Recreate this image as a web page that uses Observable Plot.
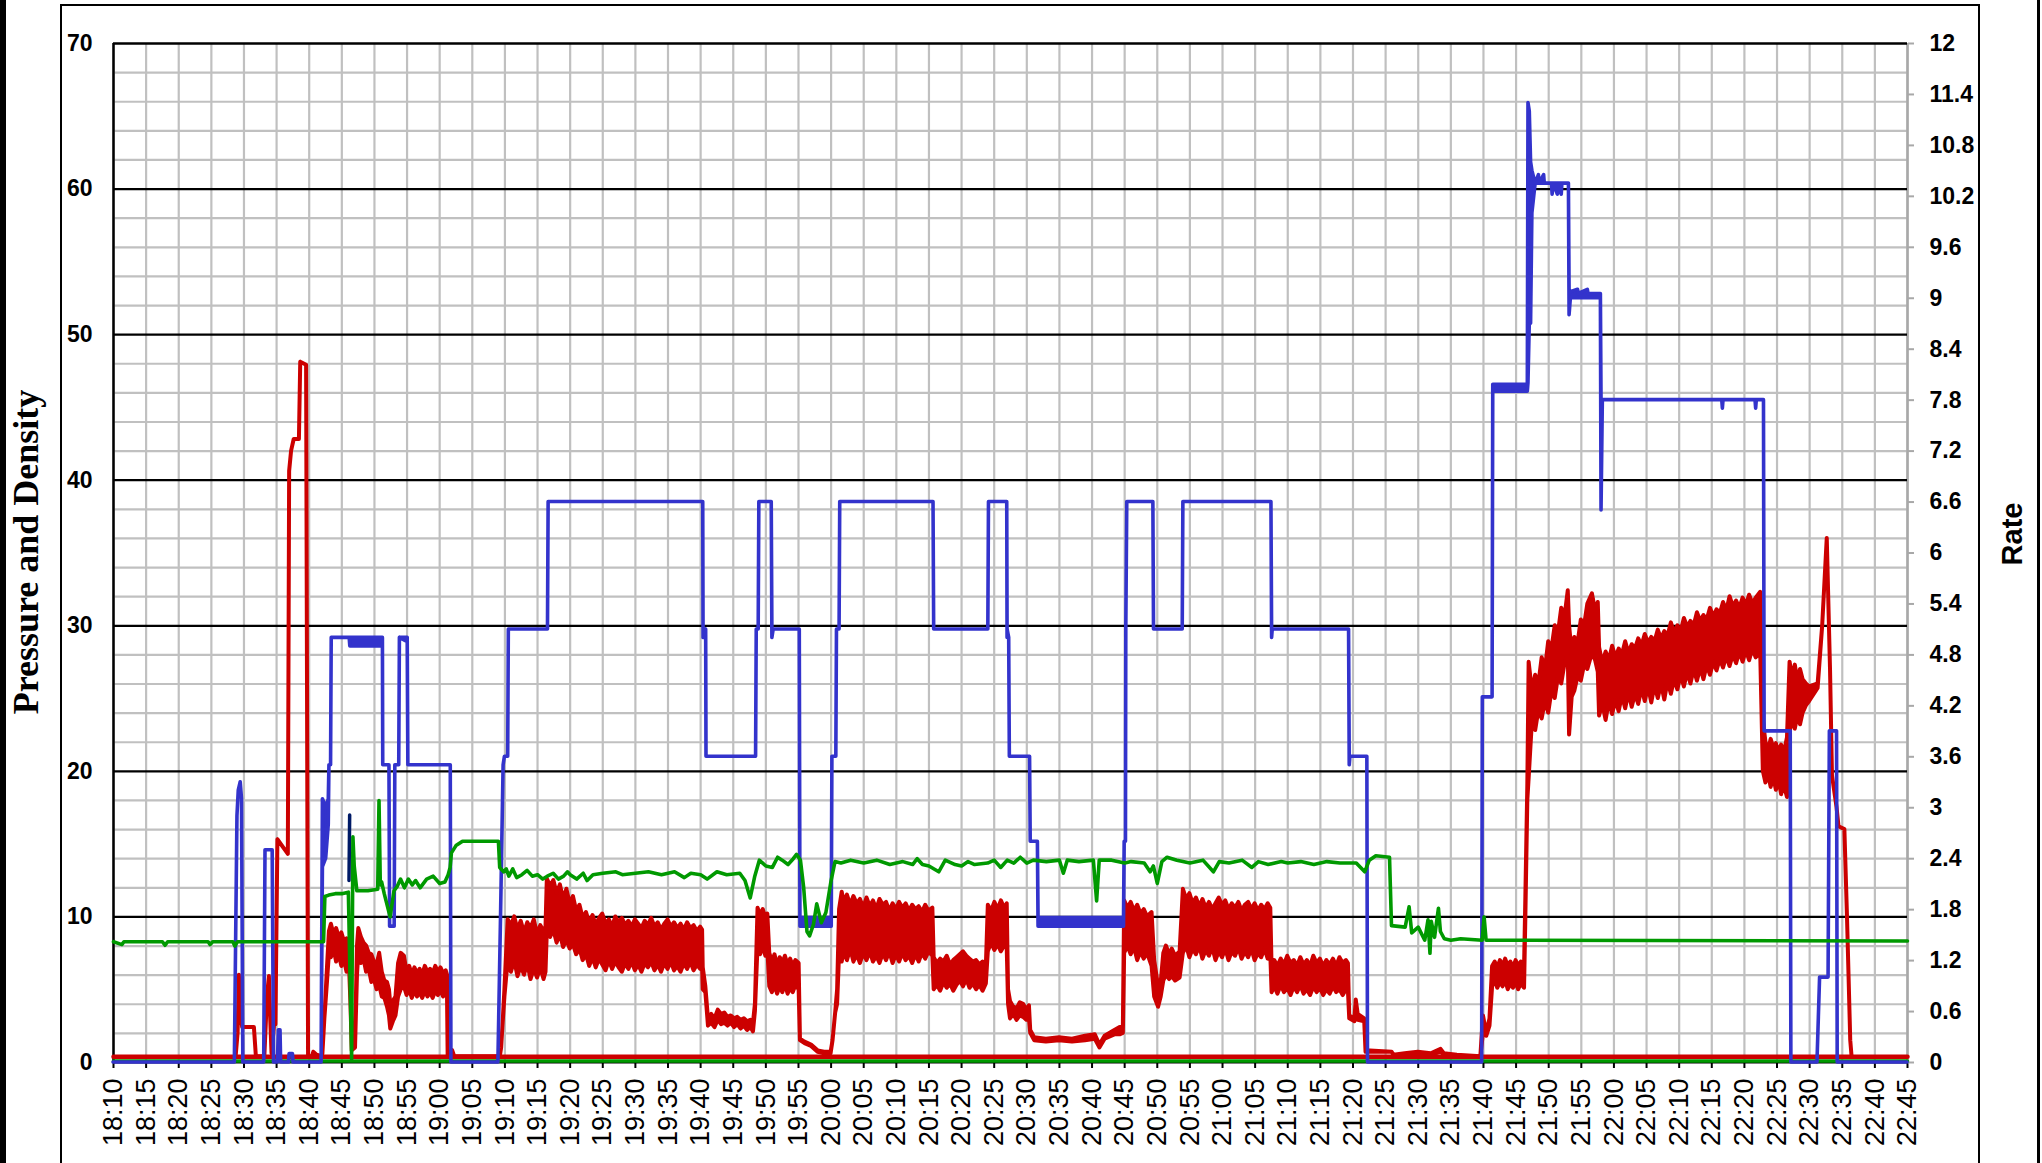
<!DOCTYPE html>
<html>
<head>
<meta charset="utf-8">
<script src="https://cdn.jsdelivr.net/npm/d3@7"></script>
<script src="https://cdn.jsdelivr.net/npm/@observablehq/plot@0.6"></script>
<style>
  html, body { margin: 0; padding: 0; background: #fff; }
  #chart { position: relative; width: 2042px; height: 1163px; }
</style>
</head>
<body>
<div id="chart"></div>
<script>
// ---------- DATA ----------
// Pressure: [time, low, high] envelope of the noisy trace (left axis)
const pressure = [
["18:28.8",0.4,0.4],["18:29.1",2,2],["18:29.3",6.0,6.0],["18:29.5",3.5,3.5],["18:29.8",2.4,2.4],["18:31.6",2.4,2.4],["18:31.9",0.4,0.4],
["18:33.2",0.4,0.4],["18:33.6",4.5,4.5],["18:33.9",5.9,5.9],["18:34.1",3,3],["18:34.3",0.6,0.6],["18:34.7",2.6,2.6],["18:34.9",2.6,2.6],
["18:35.2",15.3,15.3],["18:36.8",14.3,14.3],["18:37.0",40.6,40.6],["18:37.3",42.0,42.0],["18:37.7",42.8,42.8],["18:38.5",42.8,42.8],
["18:38.7",48.1,48.1],["18:39.6",47.9,47.9],["18:39.9",0.4,0.4],["18:40.5",0.4,0.4],["18:40.7",0.7,0.7],["18:41.2",0.5,0.5],["18:42.0",0.4,0.4],
["18:42.1",0.6,0.6],["18:42.4",3,3],["18:42.8",5.5,6.5],["18:43.1",7.5,9.0],["18:43.4",7.2,9.5],["18:43.8",7.8,8.8],["18:44.2",6.9,9.2],
["18:44.6",7.4,8.6],["18:45.0",6.6,8.9],["18:45.4",7.0,8.3],["18:45.8",6.2,8.5],["18:46.2",6.4,8.0],["18:46.4",4,6],["18:46.6",0.8,1.5],
["18:47.1",1,1.5],["18:47.4",6,8],["18:47.6",7.5,9.2],["18:48.0",6.8,8.6],["18:48.4",7.1,8.2],["18:48.8",6.2,8.0],["18:49.2",6.4,7.5],
["18:49.6",5.5,7.4],["18:50.0",5.7,6.9],["18:50.4",5.0,6.7],["18:50.8",5.3,7.5],["18:51.2",4.5,6.2],["18:51.6",4.4,5.6],["18:52.0",3.8,5.5],
["18:52.3",3.2,5.0],["18:52.5",2.3,4.0],["18:52.9",2.8,4.2],["18:53.3",3.2,4.5],["18:53.7",4.5,6.8],["18:54.1",5.0,7.5],["18:54.6",5.2,7.3],
["18:55.0",4.6,6.2],["18:55.4",5.0,6.6],["18:55.8",4.4,6.0],["18:56.2",4.9,6.5],["18:56.6",4.5,6.1],["18:57.0",4.8,6.4],["18:57.4",4.4,6.0],
["18:57.8",4.9,6.6],["18:58.2",4.5,6.2],["18:58.6",4.8,6.4],["18:59.0",4.4,6.1],["18:59.4",4.9,6.6],["18:59.8",4.6,6.2],["19:00.2",4.9,6.5],
["19:00.6",4.5,6.1],["19:01.0",4.8,6.3],["19:01.2",4.6,6.0],["19:01.3",0.4,0.6],["19:02",0.8,0.8],["19:02.3",0.4,0.4],
["19:09.3",0.4,0.4],["19:09.5",1.0,1.0],["19:09.7",2.5,2.5],["19:10.0",4.5,5.0],["19:10.3",6,7.9],
["19:10.5",6.8,9.8],["19:11",6.2,9.4],["19:11.5",7.0,10.0],["19:12",5.9,9.1],["19:12.5",6.6,9.7],["19:13",6.0,8.9],["19:13.5",6.8,9.6],
["19:14",5.7,9.2],["19:14.5",6.4,9.8],["19:15",5.8,8.8],["19:15.5",6.5,9.4],["19:16",5.7,9.0],["19:16.3",6.2,9.3],["19:16.5",9.0,12.6],
["19:17",8.6,12.1],["19:17.5",9.1,12.5],["19:18",8.2,11.6],["19:18.5",8.8,12.2],["19:19",7.9,11.2],["19:19.5",8.4,11.9],["19:20",7.8,10.9],
["19:20.5",8.1,11.4],["19:21",7.4,10.4],["19:21.5",7.8,10.8],["19:22",7.0,9.9],["19:22.5",7.4,10.3],["19:23",6.6,9.6],["19:23.5",7.2,10.1],
["19:24",6.5,9.4],["19:24.5",7.1,9.9],["19:25",6.7,10.2],["19:25.5",6.3,9.5],["19:26",7.0,9.8],["19:26.5",6.4,9.3],["19:27",6.9,10.0],
["19:27.5",6.5,9.6],["19:28",6.2,9.9],["19:28.5",6.8,9.4],["19:29",6.4,9.7],["19:29.5",6.9,9.3],["19:30",6.3,9.8],["19:30.5",6.7,9.5],
["19:31",6.2,9.2],["19:31.5",6.8,9.7],["19:32",6.5,9.4],["19:32.5",6.9,9.9],["19:33",6.3,9.3],["19:33.5",6.7,9.6],["19:34",6.2,9.1],
["19:34.5",6.8,9.5],["19:35",6.4,9.8],["19:35.5",6.9,9.3],["19:36",6.3,9.6],["19:36.5",6.6,9.2],["19:37",6.2,9.5],["19:37.5",6.8,9.1],
["19:38",6.4,9.6],["19:38.5",6.9,9.2],["19:39",6.3,9.4],["19:39.5",6.7,9.0],["19:40",6.4,9.3],["19:40.3",6.6,9.1],
["19:40.4",5,6.5],["19:40.8",4.8,5.2],["19:41.2",2.5,3.0],["19:41.7",2.7,3.3],["19:42.2",2.4,3.0],["19:42.7",2.9,3.6],["19:43.2",2.6,3.3],
["19:43.7",2.7,3.4],["19:44.2",2.5,3.1],["19:44.7",2.7,3.2],["19:45.2",2.4,3.0],["19:45.7",2.6,3.1],["19:46.2",2.3,2.9],["19:46.7",2.5,3.0],
["19:47.2",2.2,2.8],["19:47.7",2.4,2.9],["19:48.1",2.1,2.7],["19:48.4",3.5,4],
["19:48.8",8,10.6],["19:49.2",7.4,10.1],["19:49.6",8.0,10.5],["19:50.0",7.3,9.9],["19:50.3",7.8,10.2],["19:50.6",5.2,7.5],["19:51.0",4.8,6.9],
["19:51.4",5.3,7.4],["19:51.8",4.7,6.6],["19:52.2",5.2,7.2],["19:52.6",4.8,6.8],["19:53.0",5.4,7.3],["19:53.4",4.7,6.7],["19:53.8",5.1,7.1],
["19:54.2",4.8,6.6],["19:54.6",5.3,7.0],["19:55.1",5.0,6.8],["19:55.3",1.5,1.6],["19:56",1.3,1.4],["19:57",1.1,1.2],["19:58",0.7,0.8],
["19:59",0.6,0.7],["20:00",0.6,0.7],["20:00.3",1.5,1.5],["20:00.7",3.4,3.4],["20:01.0",4,5],
["20:01.3",7.5,10.5],["20:01.7",6.9,11.7],["20:02",7.6,11.0],["20:02.5",7.0,11.5],["20:03",7.8,10.8],["20:03.5",6.9,11.4],["20:04",7.4,10.9],
["20:04.5",6.8,11.2],["20:05",7.5,10.6],["20:05.5",7.0,11.3],["20:06",7.6,10.7],["20:06.5",6.9,11.1],["20:07",7.3,10.5],["20:07.5",6.8,11.2],
["20:08",7.5,10.8],["20:08.5",7.0,11.0],["20:09",7.6,10.4],["20:09.5",6.8,10.9],["20:10",7.4,10.5],["20:10.5",6.9,11.0],["20:11",7.5,10.6],
["20:11.5",7.0,10.9],["20:12",7.3,10.4],["20:12.5",6.8,10.8],["20:13",7.4,10.5],["20:13.5",6.9,10.7],["20:14",7.5,10.3],["20:14.5",7.1,10.8],
["20:15",7.6,10.4],["20:15.6",7.3,10.6],
["20:15.8",5.0,7.2],["20:16.3",5.3,6.8],["20:16.8",4.9,7.1],["20:17.3",5.5,6.9],["20:17.8",5.1,7.3],["20:18.3",5.4,6.7],["20:18.8",4.9,7.0],
["20:19.3",5.3,7.2],["20:19.8",5.6,7.4],["20:20.3",5.2,7.6],["20:20.8",5.7,7.3],["20:21.3",5.1,7.1],["20:21.8",5.4,6.9],["20:22.3",5.0,7.0],
["20:22.8",5.3,6.7],["20:23.3",4.9,6.9],["20:23.8",5.4,6.6],["20:24.1",7.6,10.8],["20:24.6",8.2,10.4],["20:25.1",7.7,11.0],["20:25.6",8.1,10.5],
["20:26.1",7.6,11.1],["20:26.6",8.0,10.6],["20:27.0",7.8,10.9],
["20:27.2",4.0,5.0],["20:27.5",3.0,4.2],["20:28",3.3,3.8],["20:28.5",2.9,3.7],["20:29",3.2,4.1],["20:29.5",3.1,4.0],["20:30",2.9,3.6],["20:30.4",3.0,3.9],
["20:30.6",2.0,2.2],["20:31.2",1.5,1.7],["20:33",1.4,1.6],["20:35",1.5,1.7],["20:37",1.4,1.6],["20:39",1.5,1.8],["20:40.5",1.6,1.9],
["20:41.2",1.0,1.2],["20:42",1.6,1.8],["20:43.5",1.9,2.2],["20:44.3",1.9,2.4],["20:44.8",2,2.4],
["20:45.0",7.5,11.1],["20:45.5",8.0,10.6],["20:46",7.4,11.0],["20:46.5",7.9,10.4],["20:47",7.0,10.8],["20:47.5",7.6,10.2],["20:48",7.1,10.5],
["20:48.5",7.5,10.0],["20:49.2",6.6,10.3],["20:49.6",4.5,7],["20:50.2",3.8,5.2],["20:50.6",4.5,5.5],["20:51.0",5.6,7.5],["20:51.4",6.0,8.0],
["20:51.9",5.7,7.4],["20:52.3",5.9,7.8],["20:52.8",5.6,7.3],["20:53.5",5.8,7.6],
["20:54.0",7.5,11.9],["20:54.5",8.0,11.2],["20:55",7.2,11.6],["20:55.5",7.8,10.9],["20:56",7.4,11.3],["20:56.5",8.0,10.7],["20:57",7.1,11.2],
["20:57.5",7.7,10.6],["20:58",7.3,11.0],["20:58.5",7.9,10.5],["20:59",7.0,10.9],["20:59.5",7.6,11.3],["21:00",7.2,10.8],["21:00.5",7.8,11.1],
["21:01",7.0,10.5],["21:01.5",7.6,10.9],["21:02",7.3,10.6],["21:02.5",7.9,11.0],["21:03",7.1,10.4],["21:03.5",7.6,10.8],["21:04",7.2,11.0],
["21:04.5",7.8,10.5],["21:05",7.0,10.9],["21:05.5",7.5,10.4],["21:06",7.2,10.8],["21:06.5",7.8,10.5],["21:07",7.1,10.9],["21:07.4",7.4,10.6],
["21:07.6",4.8,6.5],["21:08",5.2,7.0],["21:08.5",4.7,6.6],["21:09",5.3,7.1],["21:09.5",4.8,6.7],["21:10",5.1,7.3],["21:10.5",4.6,6.8],
["21:11",5.2,7.0],["21:11.5",4.8,6.6],["21:12",5.3,7.2],["21:12.5",4.7,6.7],["21:13",5.0,7.0],["21:13.5",4.6,6.6],["21:14",5.2,7.3],
["21:14.5",4.8,6.8],["21:15",5.1,7.1],["21:15.5",4.6,6.6],["21:16",5.0,7.0],["21:16.5",4.7,6.7],["21:17",5.2,7.1],["21:17.5",4.8,6.6],
["21:18",5.0,7.2],["21:18.5",4.6,6.8],["21:19",5.0,7.0],["21:19.3",4.9,6.8],
["21:19.5",3.0,3.2],["21:20.3",2.8,3.0],["21:20.5",3.3,4.3],["21:20.8",2.9,3.3],["21:21.8",2.8,3.0],["21:22.0",0.7,0.8],["21:26",0.7,0.7],
["21:26.3",0.45,0.5],["21:28",0.5,0.6],["21:30",0.6,0.7],["21:32",0.5,0.6],["21:33.5",0.7,0.9],["21:34",0.5,0.6],["21:36",0.4,0.5],
["21:39.6",0.4,0.4],["21:40.0",2.0,3.2],["21:40.5",1.8,2.0],["21:41.0",2.5,3],
["21:41.4",5.2,6.6],["21:41.8",5.6,6.9],["21:42.2",5.1,6.5],["21:42.6",5.5,7.0],["21:43.0",5.2,6.6],["21:43.4",5.6,7.1],["21:43.8",5.0,6.6],
["21:44.2",5.4,6.9],["21:44.6",5.1,6.5],["21:45.0",5.5,7.0],["21:45.4",5.0,6.6],["21:45.8",5.4,6.9],["21:46.3",5.1,6.6],
["21:46.5",10,11.4],["21:46.8",18,19.1],["21:47.0",19.5,27.5],["21:47.5",23.4,25.5],["21:48",22.8,26.6],["21:48.5",24.2,26.0],["21:49",23.6,27.8],
["21:49.5",24.8,27.0],["21:50",24.0,28.9],["21:50.5",25.5,28.4],["21:51",25.0,30.0],["21:51.5",26.5,29.5],["21:52",26.0,31.2],["21:52.5",27.4,30.6],
["21:53.0",28.1,32.4],["21:53.2",22.5,30],["21:53.6",25.1,28.1],["21:54",25.5,29.2],["21:54.5",26.5,28.8],["21:55",26.2,30.4],["21:55.5",27.3,30.0],
["21:56",27.0,31.5],["21:56.7",28.1,32.2],["21:57.2",27.6,31.0],["21:57.6",26.8,31.6],["21:57.8",23.8,28.5],["21:58.3",24.6,27.4],["21:58.8",23.5,28.2],
["21:59.3",24.8,27.6],["21:59.8",23.9,28.6],["22:00.3",24.9,27.8],["22:00.8",24.1,28.4],["22:01.3",25.2,28.0],["22:01.8",24.3,28.9],
["22:02.3",25.4,28.1],["22:02.8",24.4,28.7],["22:03.3",25.3,28.4],["22:03.8",24.6,29.1],["22:04.3",25.7,28.6],["22:04.8",24.8,29.4],
["22:05.3",25.8,28.8],["22:05.8",24.7,29.2],["22:06.3",25.9,28.9],["22:06.8",25.0,29.7],["22:07.3",26.0,29.1],["22:07.8",24.9,29.6],
["22:08.3",26.2,29.3],["22:08.8",25.3,30.2],["22:09.3",26.3,29.5],["22:09.8",25.6,30.0],["22:10.3",26.6,29.6],["22:10.8",25.8,30.5],
["22:11.3",26.8,29.9],["22:11.8",26.0,30.3],["22:12.3",27.0,30.0],["22:12.8",26.2,30.9],["22:13.3",27.1,30.3],["22:13.8",26.3,30.7],
["22:14.3",27.3,30.4],["22:14.8",26.6,31.2],["22:15.3",27.5,30.6],["22:15.8",26.9,31.1],["22:16.3",27.7,30.8],["22:16.8",27.1,31.6],
["22:17.3",27.9,31.0],["22:17.8",27.2,32.0],["22:18.3",28.0,31.3],["22:18.8",27.4,31.7],["22:19.3",28.2,31.2],["22:19.8",27.5,31.9],
["22:20.3",28.3,31.4],["22:20.8",27.6,32.1],["22:21.3",28.4,31.5],["22:21.8",27.8,31.9],["22:22.5",28.1,32.3],
["22:22.9",20,23.5],["22:23.3",19.2,22.0],["22:23.7",19.8,21.4],["22:24.1",18.9,22.2],["22:24.5",19.6,21.6],["22:24.9",18.7,21.9],
["22:25.3",19.4,21.3],["22:25.7",18.4,21.8],["22:26.1",19.1,21.2],["22:26.6",18.2,22.3],["22:27.0",22.7,27.5],["22:27.4",23.5,26.4],
["22:27.8",22.9,27.3],["22:28.2",23.8,26.2],["22:28.6",23.2,27.0],["22:29.0",24.0,26.3],["22:29.5",24.5,26.0],["22:30",24.8,25.8],
["22:31.3",25.7,26.0],["22:32.0",30,30],["22:32.7",36.0,36.0],["22:33.2",27,27],["22:33.5",19.7,19.7],["22:34.2",17.5,17.5],
["22:34.5",16.2,16.2],["22:35.4",16.0,16.0],["22:35.8",10,10],["22:36.3",1.5,1.5],["22:36.5",0.4,0.4]
];

// Rate: [time, low, high] (right axis units)
const rate = [
["18:10",0,0],["18:28.6",0,0],["18:29.0",2.9,2.9],["18:29.2",3.2,3.2],["18:29.5",3.3,3.3],["18:29.7",3.1,3.1],["18:29.9",0,0],
["18:33.1",0,0],["18:33.3",2.5,2.5],["18:34.4",2.5,2.5],["18:34.6",0,0],
["18:35.2",0,0],["18:35.35",0.38,0.38],["18:35.6",0.38,0.38],["18:35.7",0,0],
["18:36.9",0,0],["18:37.0",0.1,0.1],["18:37.5",0.1,0.1],["18:37.6",0,0],
["18:41.9",0,0],["18:42.1",2.3,3.1],["18:42.6",2.4,3.0],["18:43.0",2.8,3.1],["18:43.1",3.5,3.5],["18:43.35",3.5,3.5],["18:43.45",5.0,5.0],
["18:46.2",5.0,5.0],["18:46.3",4.9,5.0],["18:51.3",4.9,5.0],["18:51.35",3.5,3.5],["18:52.3",3.5,3.5],["18:52.4",1.6,1.6],["18:53.1",1.6,1.6],
["18:53.2",3.5,3.5],["18:53.8",3.5,3.5],["18:53.9",5.0,5.0],["18:55.1",4.95,5.0],["18:55.2",3.5,3.5],["19:01.7",3.5,3.5],["19:01.8",0,0],
["19:09.0",0,0],["19:09.4",1.7,1.7],["19:09.8",3.5,3.5],["19:10.0",3.6,3.6],["19:10.5",3.6,3.6],["19:10.6",5.1,5.1],["19:16.6",5.1,5.1],
["19:16.7",6.6,6.6],["19:40.4",6.6,6.6],["19:40.45",5.0,5.05],["19:40.85",5.05,5.1],["19:40.9",3.6,3.6],["19:48.5",3.6,3.6],["19:48.6",5.1,5.1],["19:48.9",5.1,5.1],
["19:49.0",6.6,6.6],["19:50.9",6.6,6.6],["19:51.0",5.0,5.1],["19:51.2",5.1,5.1],["19:55.2",5.1,5.1],["19:55.3",1.6,1.7],["20:00.1",1.6,1.7],["20:00.2",3.6,3.6],
["20:00.8",3.6,3.6],["20:00.9",5.1,5.1],["20:01.3",5.1,5.1],["20:01.4",6.6,6.6],["20:15.7",6.6,6.6],["20:15.8",5.1,5.1],["20:24.1",5.1,5.1],
["20:24.2",6.6,6.6],["20:27.0",6.6,6.6],["20:27.05",5.0,5.1],["20:27.3",5.0,5.0],["20:27.4",3.6,3.6],["20:30.5",3.6,3.6],["20:30.6",2.6,2.6],
["20:31.7",2.6,2.6],["20:31.8",1.6,1.7],["20:44.9",1.6,1.7],["20:45.0",2.6,2.6],["20:45.2",2.6,2.6],["20:45.25",5.1,5.1],["20:45.4",6.6,6.6],
["20:49.4",6.6,6.6],["20:49.5",5.1,5.1],["20:53.9",5.1,5.1],["20:54.0",6.6,6.6],["21:07.5",6.6,6.6],["21:07.6",5.0,5.1],["21:07.7",5.1,5.1],["21:19.4",5.1,5.1],
["21:19.5",3.5,3.6],["21:19.6",3.6,3.6],["21:22.2",3.6,3.6],["21:22.3",0,0],["21:39.8",0,0],["21:39.9",4.3,4.3],["21:41.4",4.3,4.3],["21:41.5",7.9,7.98],
["21:46.8",7.9,7.98],["21:46.9",8.0,11.3],["21:47.1",8.7,11.2],["21:47.3",8.7,10.6],["21:47.5",10.0,10.5],["21:48",10.35,10.35],
["21:48.5",10.35,10.45],["21:48.6",10.35,10.35],["21:49.3",10.35,10.45],["21:49.4",10.35,10.35],["21:50.5",10.35,10.35],["21:50.6",10.22,10.35],
["21:50.8",10.35,10.35],["21:51.4",10.22,10.35],["21:51.5",10.35,10.35],["21:52",10.22,10.35],["21:52.1",10.35,10.35],["21:53.1",10.35,10.35],
["21:53.2",8.8,9.1],["21:53.4",9.0,9.07],["21:54.5",9.0,9.1],["21:54.6",9.0,9.05],["21:56",9.0,9.1],["21:56.1",9.0,9.05],["21:58.0",9.0,9.05],
["21:58.1",6.5,7.8],["21:58.3",7.8,7.8],["22:16.6",7.8,7.8],["22:16.7",7.7,7.8],
["22:16.8",7.8,7.8],["22:21.7",7.8,7.8],["22:21.8",7.7,7.8],["22:21.9",7.8,7.8],["22:23.0",7.8,7.8],["22:23.1",3.9,3.9],["22:27.1",3.9,3.9],
["22:27.2",0,0],["22:31.2",0,0],["22:31.6",1.0,1.0],["22:32.9",1.0,1.0],["22:33.1",3.9,3.9],["22:34.2",3.9,3.9],["22:34.3",0,0],["22:45",0,0]
];

// Density: [time, value] (left axis)
const density = [
["18:10",8.3],["18:11.3",8.1],["18:11.6",8.3],["18:17.5",8.3],["18:17.9",8.05],["18:18.3",8.3],["18:24.5",8.3],["18:24.8",8.1],["18:25.2",8.3],
["18:28.3",8.3],["18:28.6",8.0],["18:29",8.3],["18:42.2",8.3],["18:42.4",11.4],["18:43",11.5],["18:44",11.6],["18:45",11.6],["18:46.0",11.7],
["18:46.3",5],["18:46.5",0.2],["18:46.7",15.5],["18:46.9",13.5],["18:47.3",11.8],["18:48",11.8],["18:49",11.8],["18:50.5",11.9],["18:50.7",18.0],
["18:50.9",12.2],["18:51.1",12.4],["18:51.5",11.6],["18:52.4",10.0],["18:53",11.8],["18:53.5",12.1],["18:54",12.6],["18:54.6",12.0],["18:55.2",12.6],
["18:55.8",12.2],["18:56.3",12.5],["18:57",12.0],["18:58",12.6],["18:59",12.8],["19:00",12.3],["19:00.8",12.4],["19:01.3",12.9],["19:01.6",13.4],
["19:01.8",14.4],["19:02.5",14.9],["19:03.5",15.2],["19:09",15.2],["19:09.2",13.4],["19:09.8",13.1],["19:10.2",13.3],["19:10.6",12.8],["19:11.2",13.3],
["19:11.8",12.7],["19:12.6",12.9],["19:13.4",13.2],["19:14.2",12.8],["19:15",12.9],["19:15.8",12.6],["19:16.5",12.8],["19:17.4",13.0],["19:18.2",12.6],
["19:19",12.8],["19:19.6",13.1],["19:20",12.9],["19:21",12.6],["19:22",13.0],["19:22.6",12.5],["19:23.5",12.9],["19:25",13.0],["19:27",13.1],
["19:28",12.9],["19:30",13.0],["19:32",13.1],["19:34",12.9],["19:36",13.1],["19:37.5",12.7],["19:38.5",13.0],["19:40",12.9],["19:41",12.6],
["19:42.5",13.1],["19:44",12.9],["19:46",13.0],["19:46.8",12.5],["19:47.6",11.3],["19:48.3",12.8],["19:49",13.9],["19:50",13.5],["19:51",13.4],
["19:51.8",14.1],["19:52.5",13.9],["19:53.4",13.6],["19:54.2",14.0],["19:54.7",14.3],["19:55.3",13.9],["19:55.8",12.0],["19:56.3",9.0],["19:56.7",8.7],
["19:57.3",9.5],["19:57.8",10.9],["19:58.5",9.6],["19:59.2",10.3],["20:00",12.5],["20:00.6",13.8],["20:01.5",13.7],["20:03",13.9],["20:05",13.7],
["20:07",13.9],["20:09",13.6],["20:11",13.8],["20:12.5",13.6],["20:13.2",14.0],["20:14",13.6],["20:15",13.5],["20:16.5",13.1],["20:17.5",13.9],
["20:19",13.6],["20:20",13.5],["20:21",13.8],["20:22",13.6],["20:24",13.7],["20:25",13.9],["20:26",13.4],["20:27",13.9],["20:28",13.7],["20:29",14.1],
["20:30",13.7],["20:31",13.9],["20:33",13.8],["20:35",13.9],["20:35.6",13.0],["20:36.2",13.9],["20:38",13.8],["20:40.2",13.9],["20:40.7",11.1],
["20:41.1",13.9],["20:43",13.9],["20:45",13.7],["20:46",13.8],["20:48",13.7],["20:48.9",13.1],["20:49.4",13.5],["20:50",12.3],["20:50.7",13.8],
["20:51.5",14.1],["20:53",13.9],["20:55",13.7],["20:57",13.9],["20:58.6",13.1],["20:59.5",13.8],["21:01",13.7],["21:03",13.9],["21:04.5",13.4],
["21:05.5",13.8],["21:07",13.6],["21:09",13.8],["21:10",13.7],["21:12",13.8],["21:14",13.6],["21:16",13.8],["21:18",13.7],["21:20.5",13.7],
["21:21.8",13.1],["21:22.5",13.9],["21:23.5",14.2],["21:25.6",14.1],["21:25.9",9.4],["21:28",9.3],["21:28.6",10.7],["21:29",8.9],["21:30",9.3],
["21:31",8.4],["21:31.5",9.8],["21:31.8",7.5],["21:32.0",9.7],["21:32.5",8.6],["21:33.1",10.6],["21:33.4",9.0],["21:34",8.5],["21:35",8.4],
["21:36.5",8.5],["21:39.8",8.4],["21:40.1",10.0],["21:40.4",8.4],["22:45",8.35]
];

// short dark trace near 18:46
const rate2 = [["18:46.1",12.5],["18:46.2",17.0]];
// constant baseline traces
const pressureBase = [["18:10",0.4],["22:45",0.4]];
const densityBase = [["18:10",0.1],["22:45",0.1]];

// tick labels
const leftTicks = [0, 10, 20, 30, 40, 50, 60, 70];
const rightTicks = [0,0.6,1.2,1.8,2.4,3,3.6,4.2,4.8,5.4,6,6.6,7.2,7.8,8.4,9,9.6,10.2,10.8,11.4,12];
const minorY = [2,4,6,8,12,14,16,18,22,24,26,28,32,34,36,38,42,44,46,48,52,54,56,58,62,64,66,68];
const timeStart = "18:10", timeEnd = "22:45";
const yTitle = "Pressure and Density";
const y2Title = "Rate";

// ---------- CHART ----------
const T = s => { const [h, m] = s.split(":"); return new Date(Date.UTC(2000, 0, 1, +h, 0) + parseFloat(m) * 60000); };
const R = 70 / 12; // rate -> left axis units
const x0 = T(timeStart), x1 = T(timeEnd);
const xTicks = d3.utcMinute.every(5).range(x0, new Date(+x1 + 1));

const RED = "#cc0000", BLUE = "#3333cc", GREEN = "#009900", GRID = "#c0c0c0";

const chart = Plot.plot({
  width: 2042,
  height: 1163,
  marginLeft: 113,
  marginRight: 135,
  marginTop: 43,
  marginBottom: 101,
  style: { background: "white", fontFamily: "'Liberation Sans', Arial, sans-serif", color: "black" },
  x: { type: "utc", domain: [x0, x1] },
  y: { domain: [0, 70] },
  marks: [
    Plot.ruleX(xTicks, { stroke: GRID, strokeWidth: 2.2 }),
    Plot.ruleY(minorY, { stroke: GRID, strokeWidth: 2.2 }),
    Plot.ruleX([x1], { stroke: "#a8a8a8", strokeWidth: 2.5 }),
    Plot.ruleY(leftTicks.filter(v => v > 0 && v < 70), { stroke: "black", strokeWidth: 2.2 }),
    Plot.ruleY([70], { stroke: "black", strokeWidth: 2.5 }),
    Plot.ruleX([x0], { stroke: "black", strokeWidth: 2.5 }),
    Plot.ruleY([0], { stroke: "black", strokeWidth: 2 }),
    Plot.axisX(xTicks, {
      anchor: "bottom", tickFormat: d3.utcFormat("%H:%M"), tickRotate: -90,
      tickSize: 6, tickPadding: 10, fontSize: 27, stroke: "black", strokeWidth: 2, label: null
    }),
    Plot.axisY(leftTicks, {
      anchor: "left", tickSize: 0, tickPadding: 21, fontSize: 23, fontWeight: "bold", label: null
    }),
    Plot.axisY(rightTicks.map(r => r * R), {
      anchor: "right", tickSize: 6, tickPadding: 16, fontSize: 23, fontWeight: "bold",
      stroke: "#a8a8a8", strokeWidth: 2,
      tickFormat: v => String(Math.round(v / R * 10) / 10), label: null
    }),
    // baselines
    Plot.lineY(pressureBase, { x: d => T(d[0]), y: d => d[1], stroke: RED, strokeWidth: 4.5 }),
    Plot.lineY(densityBase, { x: d => T(d[0]), y: d => d[1], stroke: GREEN, strokeWidth: 3.5 }),
    // pressure
    Plot.areaY(pressure, {
      x: d => T(d[0]), y1: d => d[1], y2: d => d[2],
      fill: RED, stroke: RED, strokeWidth: 4, strokeLinejoin: "round", curve: "linear"
    }),
    // rate
    Plot.areaY(rate, {
      x: d => T(d[0]), y1: d => d[1] * R, y2: d => d[2] * R,
      fill: BLUE, stroke: BLUE, strokeWidth: 3.6, strokeLinejoin: "round", curve: "linear"
    }),
    Plot.lineY(rate2, { x: d => T(d[0]), y: d => d[1], stroke: "#001a66", strokeWidth: 3.5 }),
    // density
    Plot.lineY(density, {
      x: d => T(d[0]), y: d => d[1], stroke: GREEN, strokeWidth: 3.6, strokeLinejoin: "round"
    })
  ]
});

const svg = d3.select(chart);
svg.selectAll("text").attr("fill", "black");
// outer frame and edge strips
svg.append("rect").attr("x", 61).attr("y", 5).attr("width", 1918).attr("height", 1160)
  .attr("fill", "none").attr("stroke", "black").attr("stroke-width", 2);
svg.append("rect").attr("x", 0).attr("y", 0).attr("width", 6).attr("height", 1163).attr("fill", "black");
svg.append("rect").attr("x", 2037).attr("y", 0).attr("width", 3).attr("height", 1163).attr("fill", "black");
// axis titles
svg.append("text").text(yTitle)
  .attr("transform", "translate(38,552) rotate(-90)")
  .attr("text-anchor", "middle")
  .attr("font-family", "'Liberation Serif', 'Times New Roman', serif")
  .attr("font-weight", "bold").attr("font-size", 36).attr("fill", "black");
svg.append("text").text(y2Title)
  .attr("transform", "translate(2022,534) rotate(-90)")
  .attr("text-anchor", "middle")
  .attr("font-family", "'Liberation Sans', Arial, sans-serif")
  .attr("font-weight", "bold").attr("font-size", 29).attr("fill", "black");

document.getElementById("chart").appendChild(chart);
</script>
</body>
</html>
